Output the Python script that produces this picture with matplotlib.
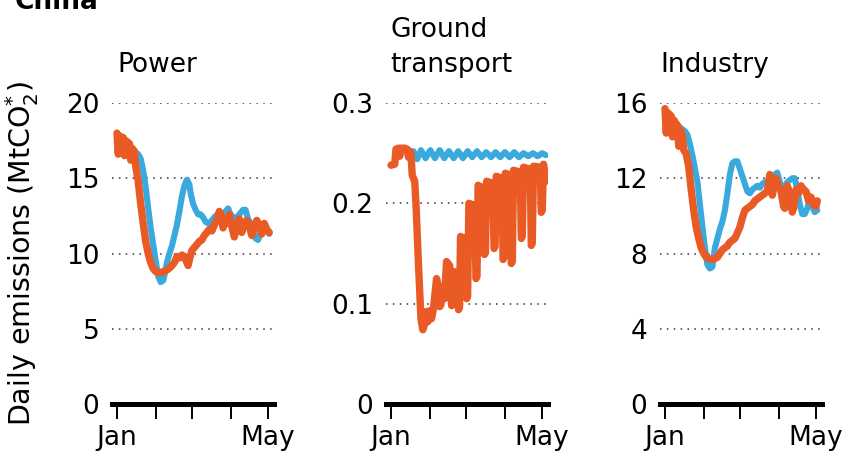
import matplotlib
matplotlib.use("Agg")
import matplotlib.pyplot as plt

plt.rcParams["font.family"] = ["DejaVu Sans"]
plt.rcParams["mathtext.fontset"] = "dejavusans"

ORANGE = "#EA5A24"
BLUE = "#3AA9DE"
GRID = "#333333"

# x positions are days since 1 Jan
MONTH_TICKS = [0, 31, 60, 91, 121]
MONTH_LABELS = ["Jan", "", "", "", "May"]

# ---- Power ----
power_base_days = [0, 2, 5, 8, 11, 13, 15, 17, 19, 21, 23, 25, 27, 29, 31, 33, 35, 37, 39,
                   40, 42, 44, 46, 48, 50, 52, 54, 56, 58, 59, 61, 63, 65, 67, 69, 71, 73,
                   75, 77, 79, 81, 83, 85, 87, 89, 91, 93, 95, 97, 99, 101, 103, 105, 107,
                   109, 111, 113, 115, 117, 119, 121, 122]
power_base = [17.8, 17.6, 17.5, 17.3, 17.0, 16.8, 16.7, 16.6, 16.3, 15.5, 14.4, 13.0, 11.7,
              10.6, 9.5, 8.5, 8.1, 8.2, 8.9, 9.4, 10.0, 10.5, 11.2, 11.9, 12.8, 13.8, 14.5,
              14.9, 14.6, 14.0, 13.3, 12.9, 12.6, 12.6, 12.4, 12.1, 12.0, 12.1, 12.3, 12.5,
              12.6, 12.5, 12.6, 12.8, 13.0, 12.6, 12.4, 12.3, 12.5, 12.7, 12.9, 12.9, 12.3,
              12.0, 11.6, 11.0, 10.9, 11.3, 11.8, 11.7, 11.4, 11.3]

power_2020_days = [0, 1, 2, 5, 6, 7, 10, 11, 12, 14, 15, 17, 19, 21, 23, 25, 27, 29, 31, 34,
                   37, 40, 43, 46, 48, 50, 52, 54, 56, 57, 58, 60, 62, 64, 66, 68, 70, 72,
                   74, 76, 78, 80, 82, 84, 85, 87, 89, 90, 92, 94, 96, 98, 100, 102, 104,
                   106, 108, 110, 112, 114, 116, 118, 120, 122]
power_2020 = [18.0, 16.6, 17.8, 17.7, 16.5, 17.5, 17.3, 16.2, 17.0, 16.8, 15.8, 14.8, 13.3,
              12.0, 10.8, 10.0, 9.4, 9.0, 8.8, 8.7, 8.8, 8.9, 9.1, 9.4, 9.8, 9.7, 9.9, 9.8,
              9.4, 9.2, 9.6, 10.2, 10.4, 10.6, 10.8, 10.9, 11.2, 11.4, 11.6, 11.5, 11.9,
              12.2, 12.8, 12.4, 11.7, 12.2, 12.0, 12.6, 11.8, 11.1, 11.8, 12.3, 11.4, 12.0,
              12.2, 11.8, 11.2, 11.9, 12.2, 11.8, 11.3, 12.0, 11.6, 11.4]

# ---- Ground transport ----
transport_base_days = [0, 3, 4, 8, 12, 15, 18, 21, 24, 27.7, 31.5, 35.2, 39, 42.7, 46.4, 50.2,
                       53.9, 57.6, 61.4, 65.1, 68.9, 72.6, 76.3, 80.1, 83.8, 87.5, 91.3, 95,
                       98.8, 102.5, 106.2, 110, 113.7, 117.4, 121.2, 124]
transport_base = [0.238, 0.240, 0.253, 0.254, 0.253, 0.250, 0.252, 0.244, 0.253, 0.245,
                  0.253, 0.245, 0.253, 0.245, 0.252, 0.245, 0.252, 0.245, 0.252, 0.246,
                  0.252, 0.246, 0.251, 0.246, 0.251, 0.246, 0.251, 0.246, 0.251, 0.246,
                  0.250, 0.247, 0.250, 0.247, 0.250, 0.248]

transport_2020_days = [0, 3, 4, 6, 7, 8, 11, 13, 14, 15, 16, 17, 19, 20, 22, 24, 25.5, 27,
                       28, 29.5, 31, 32.5, 34, 36.5, 38, 39, 40, 41, 43, 44.5, 47, 48.6,
                       49.4, 50.5, 53, 54.1, 54.9, 55.7, 59, 60.6, 61.4, 62.4, 67, 68.1,
                       68.9, 69.8, 74, 74.9, 75.7, 76.6, 81.5, 82.6, 83.4, 84.3, 89, 89.8,
                       90.6, 91.6, 95.6, 96.4, 97.2, 98.2, 103.6, 104.4, 105.2, 106.2,
                       111.6, 112.4, 113.2, 114.2, 119.6, 120.4, 121.2, 122.2, 124]
transport_2020 = [0.238, 0.239, 0.254, 0.255, 0.247, 0.255, 0.255, 0.254, 0.246, 0.252,
                  0.250, 0.228, 0.222, 0.200, 0.140, 0.085, 0.074, 0.080, 0.092, 0.082,
                  0.093, 0.085, 0.095, 0.125, 0.118, 0.097, 0.099, 0.110, 0.105, 0.142,
                  0.138, 0.098, 0.100, 0.132, 0.128, 0.094, 0.096, 0.167, 0.165, 0.105,
                  0.107, 0.200, 0.198, 0.125, 0.127, 0.218, 0.215, 0.149, 0.151, 0.222,
                  0.220, 0.155, 0.157, 0.227, 0.225, 0.144, 0.146, 0.230, 0.228, 0.140,
                  0.142, 0.233, 0.231, 0.165, 0.167, 0.236, 0.234, 0.158, 0.160, 0.237,
                  0.236, 0.191, 0.193, 0.239, 0.222]

# ---- Industry ----
industry_base_days = [0, 3, 6, 9, 12, 14, 16, 18, 20, 22, 24, 26, 28, 30, 32, 34, 36, 38,
                      40, 42, 44, 46, 48, 50, 52, 54, 56, 58, 60, 62, 64, 66, 68, 70, 72,
                      74, 76, 78, 80, 82, 84, 86, 88, 90, 92, 94, 96, 98, 100, 102, 104,
                      106, 108, 110, 112, 114, 116, 118, 120, 122]
industry_base = [15.6, 15.4, 15.1, 14.9, 14.7, 14.6, 14.5, 14.3, 13.8, 13.2, 12.5, 11.8,
                 10.6, 9.4, 8.3, 7.4, 7.2, 7.3, 8.3, 8.8, 9.3, 9.7, 10.3, 11.2, 12.2, 12.8,
                 12.9, 12.9, 12.5, 12.1, 11.7, 11.3, 11.2, 11.4, 11.5, 11.6, 11.5, 11.7,
                 11.8, 11.8, 11.9, 11.9, 12.2, 12.3, 11.8, 11.5, 11.5, 11.8, 11.9, 12.0,
                 12.0, 11.4, 10.6, 10.1, 10.1, 10.4, 10.9, 10.5, 10.2, 10.3]

industry_2020_days = [0, 1, 2, 5, 6, 7, 10, 11, 12, 14, 15, 17, 19, 21, 23, 25, 27, 29, 31,
                      33, 36, 39, 42, 44, 46, 48, 50, 52, 54, 56, 58, 60, 62, 64, 66, 68,
                      70, 72, 74, 76, 78, 80, 82, 84, 85, 86, 88, 89, 91, 93, 95, 96, 98,
                      100, 102, 103, 105, 107, 109, 111, 113, 115, 117, 119, 121, 122]
industry_2020 = [15.7, 14.4, 15.5, 15.3, 14.2, 15.1, 14.8, 13.7, 14.6, 14.3, 13.5, 13.3,
                 12.6, 11.4, 10.3, 9.4, 8.8, 8.3, 8.0, 7.8, 7.7, 7.7, 7.8, 8.0, 8.2, 8.3,
                 8.4, 8.6, 8.7, 8.8, 9.1, 9.4, 9.9, 10.3, 10.4, 10.5, 10.6, 10.8, 10.9,
                 11.0, 11.1, 11.2, 11.3, 12.2, 11.7, 11.1, 11.8, 12.0, 11.6, 11.3, 10.5,
                 10.4, 11.6, 11.2, 10.2, 10.4, 11.4, 11.2, 11.6, 11.4, 11.3, 10.8, 11.0,
                 10.6, 10.5, 10.8]

PANELS = [
    ("Power", [0, 5, 10, 15, 20], ["0", "5", "10", "15", "20"], 20,
     power_base_days, power_base, power_2020_days, power_2020),
    ("Ground\ntransport", [0, 0.1, 0.2, 0.3], ["0", "0.1", "0.2", "0.3"], 0.3,
     transport_base_days, transport_base, transport_2020_days, transport_2020),
    ("Industry", [0, 4, 8, 12, 16], ["0", "4", "8", "12", "16"], 16,
     industry_base_days, industry_base, industry_2020_days, industry_2020),
]

W, H = 851, 459
fig = plt.figure(figsize=(W / 100, H / 100), dpi=100)

lefts_px = [112, 386, 660]
title_x_px = [117, 390, 660]
top_px, bottom_px, width_px = 103, 404, 162

for i, (title, yt, ytl, ymax, bd, bv, od, ov) in enumerate(PANELS):
    ax = fig.add_axes([lefts_px[i] / W, 1 - bottom_px / H, width_px / W,
                       (bottom_px - top_px) / H])
    ax.plot(bd, bv, color=BLUE, lw=4.4, solid_joinstyle="round",
            solid_capstyle="round", zorder=3)
    ax.plot(od, ov, color=ORANGE, lw=5.3, solid_joinstyle="round",
            solid_capstyle="round", zorder=4)
    ax.set_xlim(-4, 125.8)
    ax.set_ylim(0, ymax)
    ax.set_yticks(yt)
    ax.set_yticklabels(ytl)
    ax.set_xticks(MONTH_TICKS)
    ax.set_xticklabels(MONTH_LABELS)
    for s in ["top", "right", "left"]:
        ax.spines[s].set_visible(False)
    ax.spines["bottom"].set_linewidth(3.6)
    ax.spines["bottom"].set_zorder(5)
    ax.tick_params(axis="y", length=0, pad=9, labelsize=19)
    ax.tick_params(axis="x", length=11, width=1.4, pad=4, labelsize=19, direction="out")
    ax.yaxis.grid(True, color=GRID, linestyle=(0, (1, 3.5)), linewidth=1.1)
    ax.set_axisbelow(True)
    fig.text(title_x_px[i] / W, 1 - 72 / H, title, fontsize=19, ha="left",
             va="baseline", linespacing=1.45)

fig.text(22 / W, 1 - 253 / H, r"Daily emissions (MtCO$_2^{*}$)", rotation=90,
         fontsize=20.5, ha="center", va="center")
fig.text(15 / W, 1 - 9 / H, "China", fontsize=19, fontweight="bold",
         ha="left", va="baseline")

fig.savefig("out.png", dpi=100)
